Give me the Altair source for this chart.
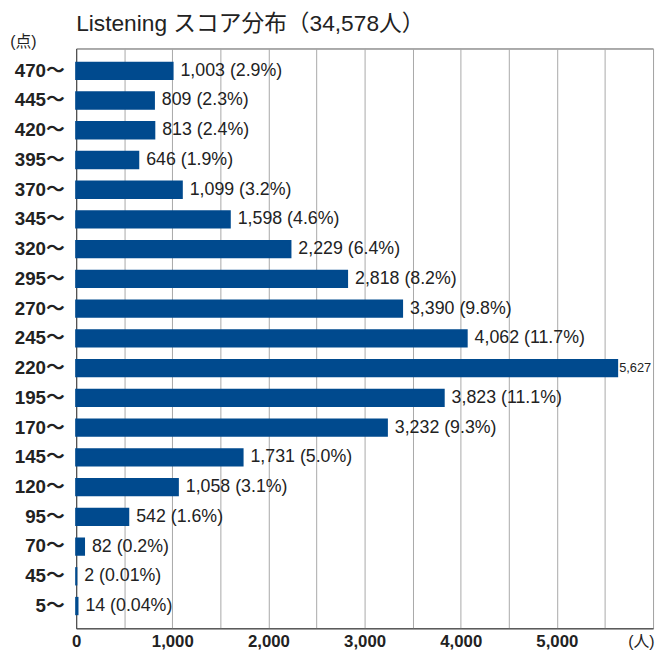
import altair as alt
import pandas as pd

scores = ["470〜", "445〜", "420〜", "395〜", "370〜", "345〜", "320〜", "295〜",
          "270〜", "245〜", "220〜", "195〜", "170〜", "145〜", "120〜", "95〜",
          "70〜", "45〜", "5〜"]
counts = [1003, 809, 813, 646, 1099, 1598, 2229, 2818, 3390, 4062, 5627, 3823,
          3232, 1731, 1058, 542, 82, 2, 14]
percents = ["2.9", "2.3", "2.4", "1.9", "3.2", "4.6", "6.4", "8.2", "9.8", "11.7",
            "", "11.1", "9.3", "5.0", "3.1", "1.6", "0.2", "0.01", "0.04"]
x_ticks = [0, 500, 1000, 1500, 2000, 2500, 3000, 3500, 4000, 4500, 5000, 5500, 6000]

labels = [f"{c:,} ({p}%)" if p else f"{c:,}" for c, p in zip(counts, percents)]
df = pd.DataFrame({"score": scores, "count": counts, "label": labels,
                   "main": [bool(p) for p in percents]})

FONT = "'Liberation Sans', 'Noto Sans CJK JP', sans-serif"
BAR = "#004a8e"
TXT = "#222222"

x_enc = alt.X(
    "count:Q",
    scale=alt.Scale(domain=[0, 6000], nice=False, zero=True),
    axis=alt.Axis(
        values=x_ticks,
        labelExpr="datum.value % 1000 == 0 && datum.value < 6000 ? format(datum.value, ',') : ''",
        grid=True, gridColor="#a8a8a8", gridWidth=1,
        ticks=False, domainColor="#444444", domainWidth=1,
        labelFont=FONT, labelFontSize=17, labelFontWeight="bold", labelColor=TXT,
        labelPadding=5, labelFlush=False, labelOverlap=False,
        title="(人)", titleFont=FONT, titleFontSize=16, titleFontWeight="normal",
        titleColor=TXT, titleX=585, titleY=13, titleAlign="right", titleBaseline="middle",
    ),
)
y_enc = alt.Y(
    "score:N", sort=scores,
    scale=alt.Scale(paddingInner=0.451, paddingOuter=0.475),
    axis=alt.Axis(
        ticks=False, domainColor="#444444", domainWidth=1, grid=False,
        labelFont=FONT, labelFontSize=19, labelFontWeight="bold", labelColor=TXT,
        labelPadding=12,
        title="(点)", titleFont=FONT, titleFontSize=16, titleFontWeight="normal",
        titleColor=TXT, titleAngle=0, titleX=-54, titleY=-7,
        titleAlign="center", titleBaseline="middle",
    ),
)

bars = alt.Chart(df).mark_bar(color=BAR, stroke=BAR, strokeWidth=2).encode(x=x_enc, y=y_enc)

main_text = alt.Chart(df).transform_filter("datum.main").mark_text(
    align="left", baseline="middle", dx=8, font=FONT, fontSize=18, color=TXT
).encode(x=x_enc, y=y_enc, text="label:N")

small_text = alt.Chart(df).transform_filter("!datum.main").mark_text(
    align="left", baseline="middle", dx=2, font=FONT, fontSize=13, color=TXT
).encode(x=x_enc, y=y_enc, text="label:N")

chart = alt.layer(bars, main_text, small_text).properties(
    width=584, height=587,
    title=alt.TitleParams(
        "Listening スコア分布（34,578人）", anchor="start", frame="group",
        font=FONT, fontSize=23, fontWeight="normal", color=TXT, offset=-2,
    ),
    padding={"left": 69, "top": 37, "right": 2, "bottom": 22},
    autosize=alt.AutoSizeParams(type="none"),
).configure_view(stroke="#555555", strokeWidth=1)

chart.save("out.html", embed_options={"renderer": "svg", "actions": False})
